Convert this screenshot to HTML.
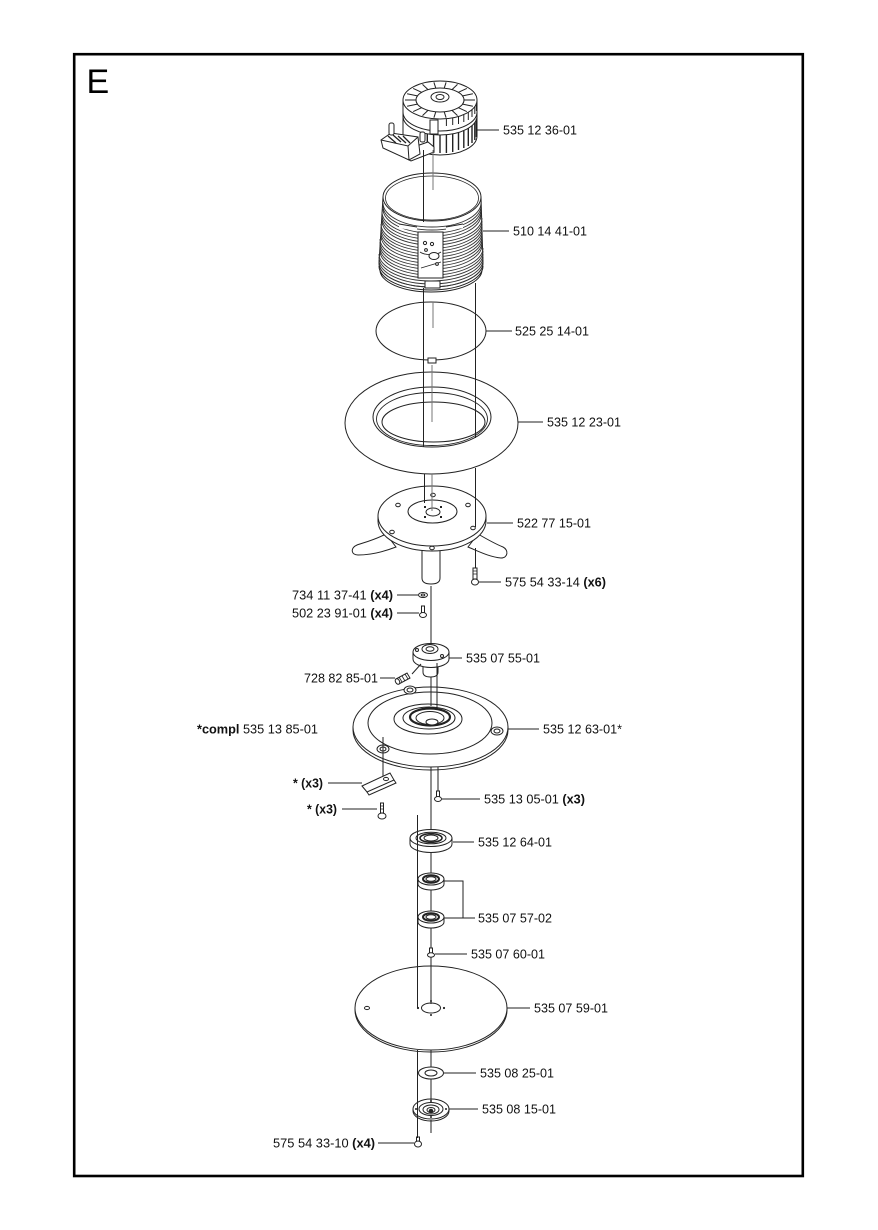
<!DOCTYPE html>
<html><head><meta charset="utf-8"><style>
html,body{margin:0;padding:0;background:#fff;}
svg{display:block;}
text{font-family:"Liberation Sans",Arial,sans-serif;font-size:13px;fill:#111;}
.b{font-weight:bold;}
</style></head><body>
<svg width="878" height="1230" viewBox="0 0 878 1230" xmlns="http://www.w3.org/2000/svg">
<rect x="0" y="0" width="878" height="1230" fill="#fff"/>
<rect x="74.2" y="54.2" width="728.6" height="1121.8" fill="none" stroke="#000" stroke-width="2.6"/>
<text x="86.5" y="93" style="font-size:34px;fill:#000">E</text>

<g fill="#fff" stroke="#222" stroke-width="1">
<!-- ===== MOTOR 535 12 36-01 ===== -->
<path d="M403,100 L403,136 A37,19 0 0 0 477,136 L477,100 Z"/>
<ellipse cx="440" cy="100" rx="37" ry="19"/>
<ellipse cx="440" cy="100" rx="24" ry="12"/>
<ellipse cx="440" cy="97" rx="9" ry="5"/>
<ellipse cx="440" cy="97" rx="4" ry="2.5"/>
<path fill="none" d="M403,112 A37,19 0 0 0 477,112 M403,116 A37,19 0 0 0 477,116"/>
<g stroke-width="1" fill="none">
<path d="M464,100 L475,100 M462.6,104.1 L472.9,106.2 M458.4,107.7 L466.8,111.6 M452,110.4 L457.5,115.6 M444.2,111.8 L446.1,117.7 M435.8,111.8 L433.9,117.7 M428,110.4 L422.5,115.6 M421.6,107.7 L413.2,111.6 M417.4,104.1 L407.1,106.2 M416,100 L405,100 M417.4,95.9 L407.1,93.8 M421.6,92.3 L413.2,88.4 M428,89.6 L422.5,84.4 M435.8,88.2 L433.9,82.3 M444.2,88.2 L446.1,82.3 M452,89.6 L457.5,84.4 M458.4,92.3 L466.8,88.4 M462.6,95.9 L472.9,93.8"/>
<path d="M476.4,103.3 V111 M474.8,106.5 V114 M472,109.5 V117 M468.3,112.2 V120 M463.8,114.6 V122 M458.5,116.5 V124 M452.7,117.9 V125 M446.4,118.7 V126"/>
<path stroke-width="1.4" d="M476.4,119.3 V137 M474.8,122.5 V140 M472,125.5 V143 M468.3,128.2 V146 M463.8,130.6 V148 M458.5,132.5 V150 M452.7,133.9 V152 M446.4,134.7 V153 M440,135 V153 M433.6,134.7 V153 M427.3,133.9 V152"/>
</g>
<rect x="430" y="120" width="8" height="14"/>
<!-- terminal block -->
<path d="M405,150 L428,142 L434,147 L434,152 L411,161 L405,158 Z"/>
<path d="M381,140 L391,133 L418,137 L420,154 L409,160 L383,148 Z"/>
<path fill="none" d="M381,140 L408,146 L418,137 M408,146 L409,160"/>
<path fill="none" stroke-width="1.3" d="M388,136 L396,143 M393,135 L401,142 M398,136 L406,143 M403,136 L410,143"/>
<rect x="389" y="123" width="5" height="12" rx="2"/>
<rect x="420" y="132" width="5" height="10" rx="2"/>

<!-- ===== CYLINDER 510 14 41-01 ===== -->
<path d="M383,197 L379,263 A52,24 0 0 0 483,263 L481,197 Z"/>
<g fill="none" stroke-width="0.9" stroke="#333">
<path d="M383,203 A49,24 0 0 0 481,203"/>
<path d="M383,206 A49,24 0 0 0 481,206"/>
<path d="M383,209 A49,24 0 0 0 481,209"/>
<path d="M382,212 A49.5,24 0 0 0 481,212"/>
<path d="M382,215 A49.5,24 0 0 0 481,215"/>
<path d="M382,218 A49.5,24 0 0 0 482,218"/>
<path d="M382,221 A50,24 0 0 0 482,221"/>
<path d="M381,224 A50,24 0 0 0 482,224"/>
<path d="M381,227 A50.5,24 0 0 0 482,227"/>
<path d="M381,230 A50.5,24 0 0 0 482,230"/>
<path d="M381,233 A50.5,24 0 0 0 482,233"/>
<path d="M381,236 A50.5,24 0 0 0 482,236"/>
<path d="M380,239 A51,24 0 0 0 482,239"/>
<path d="M380,242 A51,24 0 0 0 482,242"/>
<path d="M380,245 A51,24 0 0 0 482,245"/>
<path d="M380,248 A51,24 0 0 0 483,248"/>
<path d="M380,251 A51.5,24 0 0 0 483,251"/>
<path d="M379,254 A52,24 0 0 0 483,254"/>
<path d="M379,257 A52,24 0 0 0 483,257"/>
<path d="M379,260 A52,24 0 0 0 483,260"/>
<path d="M379,263 A52,24 0 0 0 483,263"/>
</g>
<path fill="none" d="M379,266 A52,24 0 0 0 483,266 M380,270 A51,22 0 0 0 482,270"/>
<ellipse cx="432" cy="197" rx="49" ry="24"/>
<ellipse cx="432" cy="198" rx="46.5" ry="22" fill="none" stroke-width="0.8"/>
<path stroke="none" d="M399,224 L417,227 L417,231 L399,228 Z M446,227 L463,224 L463,228 L446,231 Z"/>
<path fill="none" stroke-width="0.9" d="M399,224 L417,227 M446,227 L463,224"/>
<rect x="418" y="232" width="25" height="46"/>
<path fill="none" stroke-width="0.8" d="M420,252 A12,5 0 0 0 441,252 M421,268 L441,262"/>
<circle cx="425" cy="243" r="1.6"/><circle cx="432" cy="244" r="1.6"/><circle cx="426" cy="250" r="1.4"/>
<ellipse cx="434" cy="256" rx="5" ry="3.5"/>
<circle cx="437" cy="264" r="1.4"/>
<rect x="425" y="281" width="15" height="7" fill="#fff"/>

<!-- ===== GASKET 525 25 14-01 ===== -->
<ellipse cx="431" cy="331" rx="55" ry="29" fill="none"/>
<rect x="428" y="358" width="8" height="5"/>

<!-- ===== RING 535 12 23-01 ===== -->
<ellipse cx="431.5" cy="423" rx="86.5" ry="51"/>
<ellipse cx="432" cy="417" rx="59" ry="30"/>
<ellipse cx="432" cy="419" rx="55.5" ry="26.5" fill="none" stroke-width="0.9"/>
<ellipse cx="433.5" cy="422" rx="51.5" ry="20"/>

<!-- ===== PLATE 522 77 15-01 ===== -->
<path d="M386,534 C372,541 362,543 357,545 C350,548 351,555 358,555 C370,555 383,552 396,547 Z"/>
<path d="M478,534 C490,541 498,545 503,547 C509,550 508,558 501,558 C490,557 480,552 468,547 Z"/>
<path d="M422,546 L422,578 Q422,584 431,584 Q440,584 440,578 L440,546 Z"/>
<path d="M378,516 L378,521 A54,30 0 0 0 486,521 L486,516 Z"/>
<ellipse cx="432" cy="516" rx="54" ry="30"/>
<ellipse cx="432.5" cy="511.5" rx="24.5" ry="11.5"/>
<ellipse cx="433" cy="512" rx="7" ry="4"/>
<g fill="#222" stroke="none">
<rect x="424" y="506" width="2" height="2"/><rect x="440" y="506" width="2" height="2"/>
<rect x="424" y="516" width="2" height="2"/><rect x="440" y="516" width="2" height="2"/>
</g>
<ellipse cx="398" cy="505" rx="2.3" ry="1.7"/><ellipse cx="468" cy="505" rx="2.3" ry="1.7"/>
<ellipse cx="392" cy="532" rx="2.3" ry="1.7"/><ellipse cx="473" cy="528" rx="2.3" ry="1.7"/>
<ellipse cx="432" cy="548" rx="2.3" ry="1.7"/><ellipse cx="433" cy="495" rx="2.3" ry="1.7"/>

<!-- screw 575 54 33-14 -->
<rect x="473" y="568" width="4" height="11"/>
<path fill="none" stroke-width="0.8" d="M473,571 H477 M473,574 H477"/>
<ellipse cx="475" cy="582" rx="3.5" ry="3"/>

<!-- washer / screw under plate -->
<ellipse cx="423" cy="595" rx="4.5" ry="2.5"/>
<ellipse cx="423" cy="595" rx="1.8" ry="1"/>
<rect x="421.5" y="606" width="3" height="8"/>
<ellipse cx="423" cy="615" rx="3.5" ry="2.5"/>

<!-- ===== HUB 535 07 55-01 ===== -->
<path d="M423,660 L423,672 Q423,677 430.5,677 Q438,677 438,672 L438,660 Z"/>
<path d="M413,652 L413,659 A18,8.5 0 0 0 449,659 L449,652 Z"/>
<ellipse cx="431" cy="652" rx="18" ry="8.5"/>
<ellipse cx="430" cy="649" rx="8" ry="4.5"/>
<ellipse cx="430" cy="649" rx="4" ry="2.2"/>
<circle cx="417" cy="650" r="1.5"/><circle cx="442" cy="656" r="1.5"/>
<!-- set screw 728 82 85-01 -->
<path d="M396,679 L407,673 L410,678 L399,684 Z"/>
<path fill="none" stroke-width="0.8" d="M399,677 L402,682 M402,676 L405,681 M405,674 L408,679"/>
<ellipse cx="397.5" cy="681.5" rx="2" ry="3" transform="rotate(-30 397.5 681.5)"/>

<!-- ===== DISC 535 12 63-01* ===== -->
<path d="M353,727 L353,730 A77.5,40 0 0 0 508,730 L508,727 Z"/>
<ellipse cx="430.5" cy="727" rx="77.5" ry="40"/>
<ellipse cx="430" cy="723" rx="62" ry="31" fill="none"/>
<ellipse cx="428" cy="719" rx="34" ry="15"/>
<ellipse cx="429" cy="718" rx="26" ry="11"/>
<ellipse cx="430" cy="717" rx="20" ry="8.5" fill="none" stroke-width="2.2"/>
<ellipse cx="430" cy="718" rx="14" ry="6.5"/>
<ellipse cx="432" cy="722" rx="6" ry="3"/>
<g>
<ellipse cx="410" cy="690" rx="6" ry="4"/><ellipse cx="410" cy="690" rx="3" ry="2"/>
<ellipse cx="497" cy="731" rx="6" ry="4"/><ellipse cx="497" cy="731" rx="3" ry="2"/>
<ellipse cx="383" cy="749" rx="6" ry="4"/><ellipse cx="383" cy="749" rx="3" ry="2"/>
</g>

<!-- blade -->
<path d="M362,786 L390,773 L394,780 L367,792 Z"/>
<path fill="none" d="M367,792 L369,795 L396,783 L394,780"/>
<ellipse cx="386" cy="779" rx="2.5" ry="1.6"/>
<!-- screw * -->
<rect x="380.5" y="803" width="3" height="10"/>
<path fill="none" stroke-width="0.8" d="M380.5,806 H383.5 M380.5,809 H383.5"/>
<ellipse cx="382" cy="816" rx="4" ry="3"/>
<!-- screw 535 13 05-01 -->
<rect x="436.5" y="791" width="3" height="6"/>
<ellipse cx="438" cy="799" rx="3.5" ry="2.5"/>

<!-- ===== BEARING 535 12 64-01 ===== -->
<path d="M410,838 L410,844 A21,8.5 0 0 0 452,844 L452,838 Z"/>
<ellipse cx="431" cy="838" rx="21" ry="8.5"/>
<ellipse cx="431" cy="838" rx="15" ry="5.8"/>
<ellipse cx="431" cy="838" rx="11" ry="4.3" fill="none" stroke-width="1.6"/>
<ellipse cx="431" cy="838" rx="7" ry="3"/>

<!-- ===== BEARINGS 535 07 57-02 ===== -->
<path d="M418,879 L418,884 A13,6 0 0 0 444,884 L444,879 Z"/>
<ellipse cx="431" cy="879" rx="13" ry="6"/>
<ellipse cx="431" cy="879" rx="8" ry="3.8" fill="none" stroke-width="2"/>
<ellipse cx="431" cy="879" rx="5" ry="2.3"/>
<path d="M418,917 L418,922 A13,6 0 0 0 444,922 L444,917 Z"/>
<ellipse cx="431" cy="917" rx="13" ry="6"/>
<ellipse cx="431" cy="917" rx="8" ry="3.8" fill="none" stroke-width="2"/>
<ellipse cx="431" cy="917" rx="5" ry="2.3"/>

<!-- screw 535 07 60-01 -->
<rect x="429.5" y="948" width="3" height="6"/>
<ellipse cx="431" cy="955" rx="3.5" ry="2.2"/>

<!-- ===== BLADE DISC 535 07 59-01 ===== -->
<path d="M355,1008 L355,1010 A76,42 0 0 0 507,1010 L507,1008 Z"/>
<ellipse cx="431" cy="1008" rx="76" ry="42"/>
<ellipse cx="431" cy="1008" rx="9.5" ry="5"/>
<ellipse cx="367" cy="1008" rx="2.5" ry="1.6"/>
<g fill="#222" stroke="none">
<circle cx="418" cy="1008" r="1.1"/><circle cx="444" cy="1008" r="1.1"/>
<circle cx="431" cy="1001" r="1"/><circle cx="431" cy="1015" r="1"/>
</g>

<!-- washer 535 08 25-01 -->
<ellipse cx="431" cy="1073" rx="12.5" ry="6"/>
<ellipse cx="431" cy="1073" rx="6" ry="3"/>

<!-- flange 535 08 15-01 -->
<path d="M413,1109 L413,1111 A18,10 0 0 0 449,1111 L449,1109 Z"/>
<ellipse cx="431" cy="1109" rx="18" ry="10"/>
<ellipse cx="431" cy="1109" rx="12" ry="6.5"/>
<ellipse cx="431" cy="1109.5" rx="8" ry="4.5"/>
<ellipse cx="431" cy="1110" rx="4" ry="2.5"/>
<circle cx="431" cy="1111" r="1.8" fill="#222"/>
<g fill="#222" stroke="none">
<circle cx="416" cy="1109" r="1"/><circle cx="446" cy="1109" r="1"/>
<circle cx="431" cy="1101" r="1"/><circle cx="431" cy="1117" r="1"/>
</g>

<!-- screw 575 54 33-10 -->
<rect x="416.5" y="1137" width="3" height="5"/>
<ellipse cx="418" cy="1144" rx="3.5" ry="3"/>
</g>

<!-- ===== axis / assembly lines ===== -->
<g stroke="#222" stroke-width="1" fill="none">
<path d="M423.5,150 V222 M423.5,288 V447 M424.5,474 V503"/>
<path stroke="#777" d="M433,150 V190 M433,302 V328 M432,365 V422 M432,474 V511"/>
<path d="M475.5,283 V438 M475.5,468 V527 M475.5,548 V568"/>
<path d="M431,586 V643"/>
<path d="M431,677 V706 M437,663 V709"/>
<path d="M431,767 V830 M438,767 V791"/>
<path d="M383,737 V776"/>
<path d="M417.5,815 V1008 M417.5,1050 V1138"/>
<path d="M431,853 V873 M431,890 V911 M431,928 V948 M431,957 V1004 M431,1050 V1067 M431,1079 V1100 M431,1120 V1133"/>
<path d="M412,674 L421,664"/>
</g>

<!-- ===== leader lines ===== -->
<g stroke="#222" stroke-width="1" fill="none">
<path d="M476,130 H499"/>
<path d="M483,231 H509"/>
<path d="M486,331 H512"/>
<path d="M518,422 H543"/>
<path d="M487,523 H513"/>
<path d="M479,582 H501"/>
<path d="M397,595 H418"/>
<path d="M397,613 H419"/>
<path d="M449,658 H462"/>
<path d="M380,678 H395"/>
<path d="M508,729 H539"/>
<path d="M328,783 H362"/>
<path d="M342,809 H377"/>
<path d="M442,799 H480"/>
<path d="M453,842 H474"/>
<path d="M444,881 H463 V918 H444 M463,918 H475"/>
<path d="M435,954 H467"/>
<path d="M507,1008 H530"/>
<path d="M444,1073 H476"/>
<path d="M449,1109 H478"/>
<path d="M378,1143 H414"/>
</g>

<!-- ===== labels ===== -->
<text x="503" y="134.5" textLength="74" lengthAdjust="spacingAndGlyphs">535 12 36-01</text>
<text x="513" y="235.5" textLength="74" lengthAdjust="spacingAndGlyphs">510 14 41-01</text>
<text x="515" y="335.5" textLength="74" lengthAdjust="spacingAndGlyphs">525 25 14-01</text>
<text x="547" y="426.5" textLength="74" lengthAdjust="spacingAndGlyphs">535 12 23-01</text>
<text x="517" y="527.5" textLength="74" lengthAdjust="spacingAndGlyphs">522 77 15-01</text>
<text x="505" y="586.5" textLength="101" lengthAdjust="spacingAndGlyphs">575 54 33-14 <tspan class="b">(x6)</tspan></text>
<text x="292" y="599.5" textLength="101" lengthAdjust="spacingAndGlyphs">734 11 37-41 <tspan class="b">(x4)</tspan></text>
<text x="292" y="617.5" textLength="101" lengthAdjust="spacingAndGlyphs">502 23 91-01 <tspan class="b">(x4)</tspan></text>
<text x="466" y="662.5" textLength="74" lengthAdjust="spacingAndGlyphs">535 07 55-01</text>
<text x="304" y="682.5" textLength="74" lengthAdjust="spacingAndGlyphs">728 82 85-01</text>
<text x="197" y="733.5" textLength="121" lengthAdjust="spacingAndGlyphs"><tspan class="b">*compl</tspan> 535 13 85-01</text>
<text x="543" y="733.5" textLength="79" lengthAdjust="spacingAndGlyphs">535 12 63-01*</text>
<text x="293" y="787.5" textLength="30" lengthAdjust="spacingAndGlyphs" class="b">* (x3)</text>
<text x="307" y="813.5" textLength="30" lengthAdjust="spacingAndGlyphs" class="b">* (x3)</text>
<text x="484" y="803.5" textLength="101" lengthAdjust="spacingAndGlyphs">535 13 05-01 <tspan class="b">(x3)</tspan></text>
<text x="478" y="846.5" textLength="74" lengthAdjust="spacingAndGlyphs">535 12 64-01</text>
<text x="478" y="922.5" textLength="74" lengthAdjust="spacingAndGlyphs">535 07 57-02</text>
<text x="471" y="958.5" textLength="74" lengthAdjust="spacingAndGlyphs">535 07 60-01</text>
<text x="534" y="1012.5" textLength="74" lengthAdjust="spacingAndGlyphs">535 07 59-01</text>
<text x="480" y="1077.5" textLength="74" lengthAdjust="spacingAndGlyphs">535 08 25-01</text>
<text x="482" y="1113.5" textLength="74" lengthAdjust="spacingAndGlyphs">535 08 15-01</text>
<text x="273" y="1147.5" textLength="102" lengthAdjust="spacingAndGlyphs">575 54 33-10 <tspan class="b">(x4)</tspan></text>
</svg>
</body></html>
